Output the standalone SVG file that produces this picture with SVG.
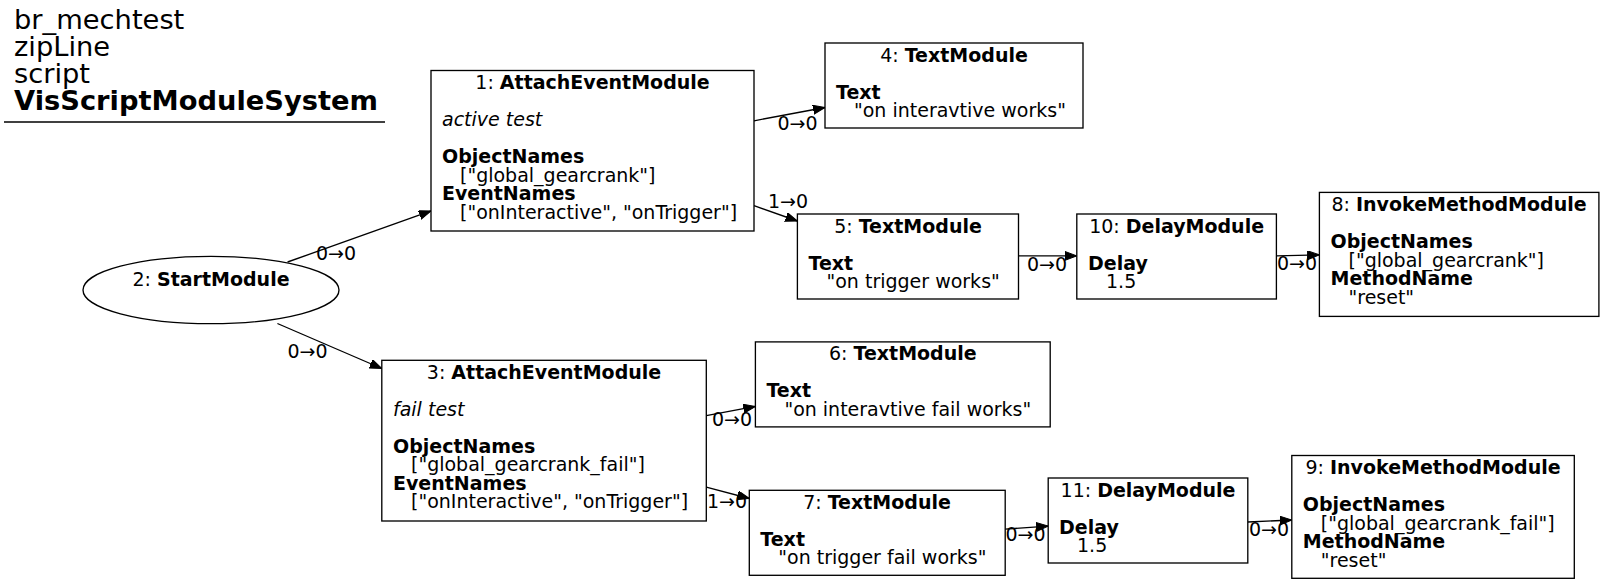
<svg xmlns="http://www.w3.org/2000/svg" width="1605" height="583" viewBox="0 0 1605 583">
<style>
text{font-family:"DejaVu Sans","Liberation Sans",sans-serif;font-size:19px;fill:#000}
.t{font-size:27.3px}
.b{font-weight:bold}
.i{font-style:italic}
.m{text-anchor:middle}
rect,ellipse{fill:#fff;stroke:#000;stroke-width:1.33}
rect.bg{fill:#fff;stroke:none}
.e path{fill:none;stroke:#000;stroke-width:1.33;marker-end:url(#ah)}
</style>
<defs>
<marker id="ah" markerUnits="userSpaceOnUse" markerWidth="14" markerHeight="10" refX="12" refY="4.5" orient="auto">
<path d="M0,0 L12,4.5 L0,9 z" fill="#000" stroke="#000" stroke-width="1"/>
</marker>
</defs>
<rect class="bg" x="0" y="0" width="1605" height="583"/>
<g id="title">
<text class="t" x="14" y="28.5">br_mechtest</text>
<text class="t" x="14" y="55.5">zipLine</text>
<text class="t" x="14" y="82.5">script</text>
<text class="t b" x="14" y="110">VisScriptModuleSystem</text>
<line x1="4" y1="122" x2="385" y2="122" stroke="#000" stroke-width="1.33"/>
</g>
<g class="e" id="edges">
<path d="M287.6,262 L431,210.9"/>
<path d="M277.4,323.5 L381.8,368.5"/>
<path d="M754,120.8 L825,107.5"/>
<path d="M754,205.7 L797.4,221"/>
<path d="M1018.5,255.9 L1076.8,255.9"/>
<path d="M1276.4,255.9 L1319.4,254.9"/>
<path d="M706.3,415.6 L755.4,406.4"/>
<path d="M706.3,487.2 L749.3,498.5"/>
<path d="M1005.2,529.2 L1048.2,526.1"/>
<path d="M1247.8,522 L1291.8,520"/>
<text class="m" x="336" y="260">0→0</text>
<text class="m" x="307.5" y="358">0→0</text>
<text class="m" x="797.5" y="129.5">0→0</text>
<text class="m" x="788" y="208">1→0</text>
<text class="m" x="1047" y="271">0→0</text>
<text class="m" x="1297" y="270">0→0</text>
<text class="m" x="732" y="426">0→0</text>
<text class="m" x="727" y="508">1→0</text>
<text class="m" x="1025.6" y="540.5">0→0</text>
<text class="m" x="1269" y="535.5">0→0</text>
</g>
<g id="node2">
<ellipse cx="211" cy="290" rx="128" ry="33.7"/>
<text class="m" x="211" y="285.7">2: <tspan class="b">StartModule</tspan></text>
</g>
<g id="node1">
<rect x="431" y="70.5" width="323" height="160.5"/>
<text class="m" x="592.5" y="89">1: <tspan class="b">AttachEventModule</tspan></text>
<text class="i" x="442" y="126">active test</text>
<text class="b" x="442" y="163">ObjectNames</text>
<text x="460" y="181.5">["global_gearcrank"]</text>
<text class="b" x="442" y="200">EventNames</text>
<text x="460" y="218.5">["onInteractive", "onTrigger"]</text>
</g>
<g id="node3">
<rect x="381.8" y="360.3" width="324.5" height="160.7"/>
<text class="m" x="544" y="378.8">3: <tspan class="b">AttachEventModule</tspan></text>
<text class="i" x="393" y="415.8">fail test</text>
<text class="b" x="393" y="452.8">ObjectNames</text>
<text x="411" y="471.3">["global_gearcrank_fail"]</text>
<text class="b" x="393" y="489.8">EventNames</text>
<text x="411" y="508.3">["onInteractive", "onTrigger"]</text>
</g>
<g id="node4">
<rect x="825" y="43" width="258" height="85"/>
<text class="m" x="954" y="61.5">4: <tspan class="b">TextModule</tspan></text>
<text class="b" x="836" y="98.5">Text</text>
<text x="854" y="117">"on interavtive works"</text>
</g>
<g id="node5">
<rect x="797.4" y="214" width="221.1" height="85"/>
<text class="m" x="908" y="232.5">5: <tspan class="b">TextModule</tspan></text>
<text class="b" x="808.5" y="269.5">Text</text>
<text x="826.5" y="288">"on trigger works"</text>
</g>
<g id="node10">
<rect x="1076.8" y="214" width="199.6" height="85"/>
<text class="m" x="1176.6" y="232.5">10: <tspan class="b">DelayModule</tspan></text>
<text class="b" x="1088" y="269.5">Delay</text>
<text x="1106" y="288">1.5</text>
</g>
<g id="node8">
<rect x="1319.4" y="192.4" width="279.5" height="124"/>
<text class="m" x="1459" y="211">8: <tspan class="b">InvokeMethodModule</tspan></text>
<text class="b" x="1330.5" y="248">ObjectNames</text>
<text x="1348.5" y="266.5">["global_gearcrank"]</text>
<text class="b" x="1330.5" y="285">MethodName</text>
<text x="1348.5" y="303.5">"reset"</text>
</g>
<g id="node6">
<rect x="755.4" y="341.9" width="294.8" height="85"/>
<text class="m" x="902.8" y="360.4">6: <tspan class="b">TextModule</tspan></text>
<text class="b" x="766.4" y="397.4">Text</text>
<text x="784.4" y="415.9">"on interavtive fail works"</text>
</g>
<g id="node7">
<rect x="749.3" y="490.3" width="255.9" height="85"/>
<text class="m" x="877" y="508.8">7: <tspan class="b">TextModule</tspan></text>
<text class="b" x="760.3" y="545.8">Text</text>
<text x="778.3" y="564.3">"on trigger fail works"</text>
</g>
<g id="node11">
<rect x="1048.2" y="478" width="199.6" height="85"/>
<text class="m" x="1148" y="496.5">11: <tspan class="b">DelayModule</tspan></text>
<text class="b" x="1059" y="533.5">Delay</text>
<text x="1077" y="552">1.5</text>
</g>
<g id="node9">
<rect x="1291.8" y="455.5" width="282.5" height="122.8"/>
<text class="m" x="1433" y="474">9: <tspan class="b">InvokeMethodModule</tspan></text>
<text class="b" x="1302.8" y="511">ObjectNames</text>
<text x="1320.8" y="529.5">["global_gearcrank_fail"]</text>
<text class="b" x="1302.8" y="548">MethodName</text>
<text x="1320.8" y="566.5">"reset"</text>
</g>
</svg>
